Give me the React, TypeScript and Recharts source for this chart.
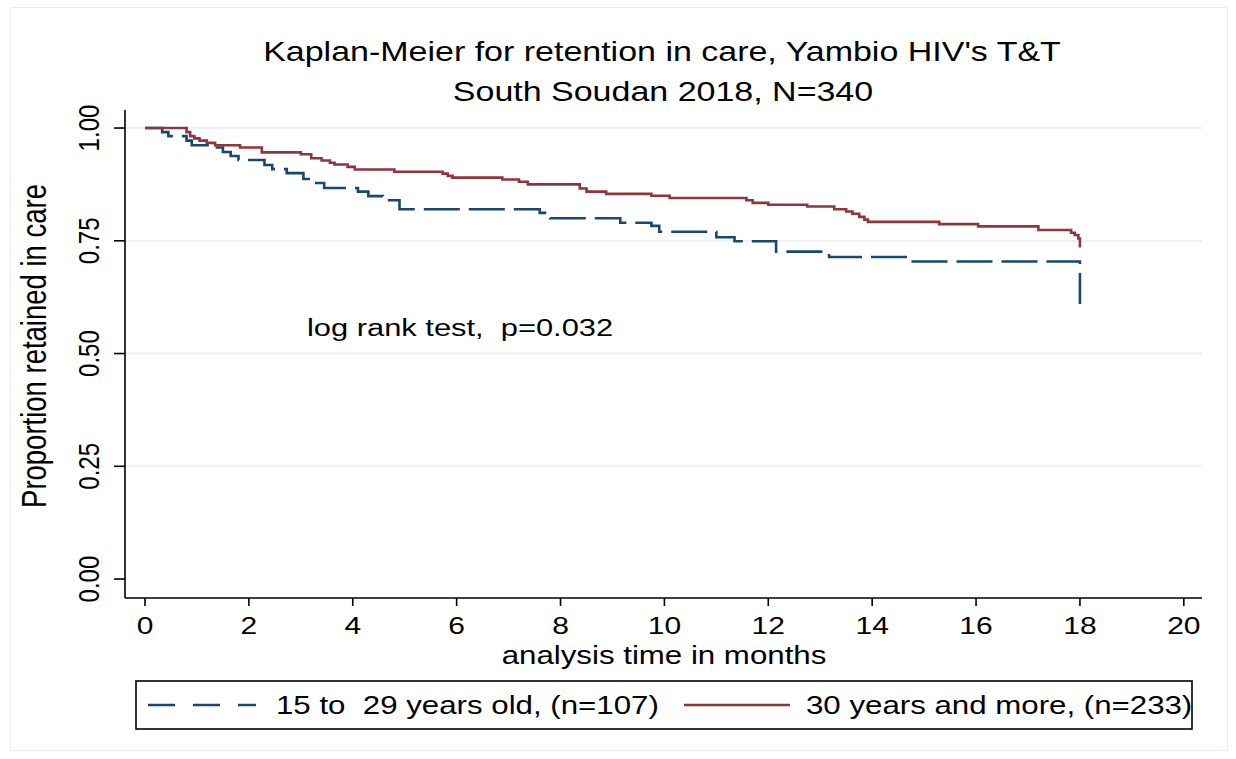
import React from "react";
import { LineChart, Line, XAxis, YAxis, ReferenceLine } from "recharts";

// ---- data ----
const xTicks = [0, 2, 4, 6, 8, 10, 12, 14, 16, 18, 20];
const yTicks = [0, 0.25, 0.5, 0.75, 1];
const gridValues = [0.25, 0.5, 0.75, 1];

const youngLabel = "15 to  29 years old, (n=107)";
const olderLabel = "30 years and more, (n=233)";

const youngTimes = [0, 0.33, 0.45, 0.8, 0.9, 1.3, 1.5, 1.65, 1.8, 2.3, 2.45, 2.73, 3.05, 3.2, 3.45, 4.1, 4.3, 4.58, 4.9, 7.6, 7.8, 9.15, 9.75, 9.9, 11.0, 11.35, 12.15, 13.17, 14.75, 18, 18];
const youngSurv = [1.0, 0.991, 0.982, 0.972, 0.962, 0.957, 0.947, 0.938, 0.929, 0.918, 0.909, 0.9, 0.887, 0.878, 0.867, 0.859, 0.849, 0.84, 0.82, 0.812, 0.8, 0.79, 0.783, 0.77, 0.758, 0.749, 0.726, 0.714, 0.704, 0.704, 0.61];

const olderTimes = [0, 0.8, 0.87, 0.95, 1.05, 1.19, 1.35, 1.83, 2.25, 3.0, 3.2, 3.4, 3.56, 3.65, 3.9, 4.04, 4.8, 5.73, 5.83, 5.92, 6.88, 7.2, 7.37, 8.37, 8.5, 8.88, 9.75, 10.1, 11.58, 11.7, 12.0, 12.75, 13.27, 13.5, 13.62, 13.75, 13.85, 13.92, 15.29, 16.04, 17.2, 17.83, 17.9, 17.97, 18];
const olderSurv = [1.0, 0.991, 0.982, 0.977, 0.972, 0.967, 0.962, 0.957, 0.946, 0.942, 0.933, 0.928, 0.923, 0.919, 0.914, 0.908, 0.903, 0.899, 0.894, 0.89, 0.886, 0.881, 0.875, 0.866, 0.859, 0.854, 0.85, 0.845, 0.84, 0.834, 0.83, 0.826, 0.82, 0.815, 0.81, 0.803, 0.797, 0.792, 0.787, 0.782, 0.774, 0.768, 0.763, 0.755, 0.735];

const youngData = youngTimes.map((t, i) => ({ t, s: youngSurv[i] }));
const olderData = olderTimes.map((t, i) => ({ t, s: olderSurv[i] }));

// ---- style ----
const FONT = "'Liberation Sans', Arial, Helvetica, sans-serif";
const SX = 1.25; // horizontal stretch of the reference's text
const BLUE = "#1a476f";
const RED = "#90353b";

const XTick = (props: any) => {
  const { x, payload } = props;
  return (
    <text
      transform={`translate(${x},626) scale(${SX},1)`}
      textAnchor="middle"
      dominantBaseline="central"
      fontSize={24}
      fontFamily={FONT}
      fill="#000"
    >
      {payload.value}
    </text>
  );
};

const YTick = (props: any) => {
  const { y, payload } = props;
  return (
    <text
      transform={`translate(89,${y}) scale(${SX},1) rotate(-90)`}
      textAnchor="middle"
      dominantBaseline="central"
      fontSize={24}
      fontFamily={FONT}
      fill="#000"
    >
      {Number(payload.value).toFixed(2)}
    </text>
  );
};

const XTitle = () => (
  <text
    transform={`translate(664,655) scale(${SX},1)`}
    textAnchor="middle"
    dominantBaseline="central"
    fontSize={25}
    fontFamily={FONT}
    fill="#000"
  >
    analysis time in months
  </text>
);

const YTitle = () => (
  <text
    transform={`translate(34,346) scale(${SX},1) rotate(-90)`}
    textAnchor="middle"
    dominantBaseline="central"
    fontSize={27.5}
    fontFamily={FONT}
    fill="#000"
  >
    Proportion retained in care
  </text>
);

const T = (p: { x: number; y: number; size: number; anchor?: string; children: any }) => (
  <text
    transform={`translate(${p.x},${p.y}) scale(${SX},1)`}
    textAnchor={p.anchor || "middle"}
    dominantBaseline="central"
    fontSize={p.size}
    fontFamily={FONT}
    fill="#000"
    style={{ whiteSpace: "pre" }}
  >
    {p.children}
  </text>
);

export default function App() {
  return (
    <div style={{ position: "absolute", left: 0, top: 0, width: 1236, height: 759, background: "#fff" }}>
      <div
        style={{
          position: "absolute",
          left: 10,
          top: 7,
          width: 1218,
          height: 744,
          border: "1.5px solid #e6eef0",
          boxSizing: "border-box",
        }}
      />
      <div style={{ position: "absolute", left: 0, top: 0 }}>
        <LineChart width={1236} height={759} margin={{ top: 110, right: 34, bottom: 131, left: 65 }}>
          <XAxis
            type="number"
            dataKey="t"
            domain={[-0.385, 20.35]}
            ticks={xTicks}
            interval={0}
            allowDataOverflow
            height={30}
            tickSize={8}
            tick={XTick}
            axisLine={{ stroke: "#000", strokeWidth: 1.6 }}
            tickLine={{ stroke: "#000", strokeWidth: 1.6 }}
            label={{ content: XTitle }}
          />
          <YAxis
            type="number"
            domain={[-0.042, 1.04]}
            ticks={yTicks}
            interval={0}
            allowDataOverflow
            width={60}
            tickSize={11}
            tick={YTick}
            axisLine={{ stroke: "#000", strokeWidth: 1.6 }}
            tickLine={{ stroke: "#000", strokeWidth: 1.6 }}
            label={{ content: YTitle }}
          />
          {gridValues.map((v) => (
            <ReferenceLine key={v} y={v} stroke="#eaf2f3" strokeWidth={2} />
          ))}
          <Line
            data={youngData}
            dataKey="s"
            type="stepAfter"
            stroke={BLUE}
            strokeWidth={2.6}
            strokeDasharray="36 9"
            dot={false}
            activeDot={false}
            isAnimationActive={false}
            name={youngLabel}
          />
          <Line
            data={olderData}
            dataKey="s"
            type="stepAfter"
            stroke={RED}
            strokeWidth={2.6}
            dot={false}
            activeDot={false}
            isAnimationActive={false}
            name={olderLabel}
          />
        </LineChart>
      </div>
      <svg
        width={1236}
        height={759}
        style={{ position: "absolute", left: 0, top: 0, pointerEvents: "none" }}
      >
        <T x={662} y={52} size={27.2}>Kaplan-Meier for retention in care, Yambio HIV's T&amp;T</T>
        <T x={663} y={92} size={27.2}>South Soudan 2018, N=340</T>
        <T x={307} y={328} size={24.7} anchor="start">log rank test,  p=0.032</T>
        <rect x={136} y={681} width={1056} height={48} fill="#fff" stroke="#000" strokeWidth={1.6} />
        <line x1={148} y1={705} x2={256} y2={705} stroke={BLUE} strokeWidth={2.6} strokeDasharray="27 18" />
        <T x={276} y={705} size={25} anchor="start">{youngLabel}</T>
        <line x1={684} y1={705} x2={790} y2={705} stroke={RED} strokeWidth={2.6} />
        <T x={806} y={705} size={25} anchor="start">{olderLabel}</T>
      </svg>
    </div>
  );
}
